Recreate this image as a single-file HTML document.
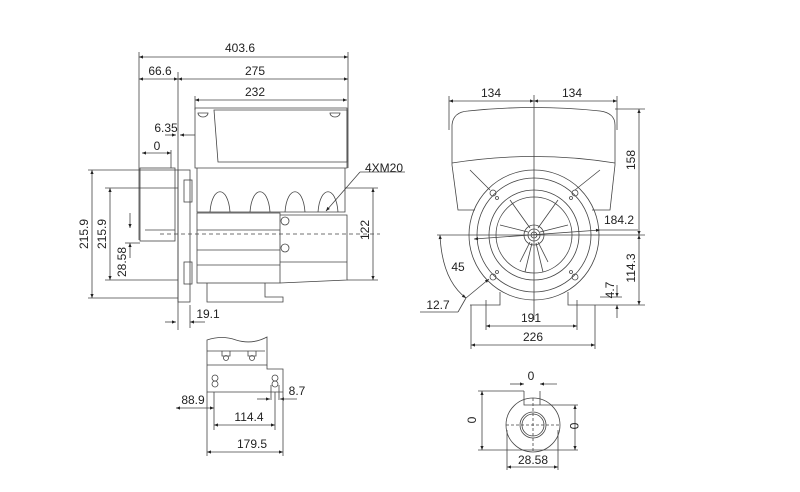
<!DOCTYPE html>
<html><head><meta charset="utf-8"><style>
html,body{margin:0;padding:0;background:#fff;}
svg{display:block;}
text{font-family:"Liberation Sans",sans-serif;font-size:12px;fill:#222;}
</style></head><body>
<svg width="800" height="492" viewBox="0 0 800 492" xmlns="http://www.w3.org/2000/svg">
<defs>
<marker id="a" viewBox="0 0 10 10" refX="10" refY="5" markerWidth="7" markerHeight="5" orient="auto-start-reverse"><path d="M0,1L10,5L0,9z" fill="#222"/></marker>
</defs>
<g stroke="#444" stroke-width="0.8" fill="none">
<!-- LEFT VIEW dimensions -->
<line x1="139" y1="57" x2="348" y2="57" marker-start="url(#a)" marker-end="url(#a)"/>
<line x1="139" y1="79" x2="178" y2="79" marker-start="url(#a)" marker-end="url(#a)"/>
<line x1="178" y1="79" x2="348" y2="79" marker-start="url(#a)" marker-end="url(#a)"/>
<line x1="195" y1="100" x2="347" y2="100" marker-start="url(#a)" marker-end="url(#a)"/>
<line x1="139" y1="52" x2="139" y2="240"/>
<line x1="348" y1="52" x2="348" y2="168"/>
<line x1="195" y1="96" x2="195" y2="110"/>
<line x1="178" y1="72" x2="178" y2="330"/>
<line x1="165" y1="135" x2="176" y2="135" marker-end="url(#a)"/>
<line x1="180" y1="135" x2="195" y2="135" marker-start="url(#a)"/>
<line x1="142" y1="153" x2="171" y2="153" marker-start="url(#a)" marker-end="url(#a)"/>
<line x1="171" y1="150" x2="171" y2="168"/>
<!-- shaft -->
<rect x="140" y="168" width="35" height="73"/>
<line x1="145" y1="230" x2="175" y2="230"/>
<line x1="160" y1="234" x2="380" y2="234" stroke-dasharray="4,3"/>
<!-- flange -->
<rect x="178" y="170" width="12" height="132"/>
<rect x="184" y="180" width="8" height="22"/>
<rect x="184" y="262" width="8" height="22"/>
<!-- top box -->
<path d="M195,108 H347 V168 H195 Z"/>
<path d="M214,110 H347 V162 H218 Z"/>
<path d="M198,113 a5,4 0 0 0 10,0 z"/><path d="M330,113 a5,4 0 0 0 10,0 z"/>
<!-- fins -->
<path d="M197,168 V212 H345 V168"/>
<path d="M210,212 C212,185 228,185 230,212 M250,212 C252,185 268,185 270,212 M285,212 C287,185 303,185 305,212 M318,212 C320,185 336,185 338,212"/>
<!-- lower body -->
<rect x="197" y="213" width="83" height="70"/>
<line x1="197" y1="230" x2="280" y2="230"/><line x1="197" y1="250" x2="280" y2="250"/><line x1="197" y1="265" x2="280" y2="265"/>
<path d="M280,215 H347 V280 L280,283"/>
<line x1="280" y1="262" x2="347" y2="262"/>
<circle cx="285" cy="221" r="4"/><circle cx="285" cy="248" r="4"/>
<path d="M207,283 V302 H283 V297 H265 V283"/>
<!-- vertical dims -->
<line x1="92" y1="170" x2="92" y2="298" marker-start="url(#a)" marker-end="url(#a)"/>
<line x1="88" y1="170" x2="178" y2="170"/><line x1="88" y1="298" x2="178" y2="298"/>
<line x1="110" y1="188" x2="110" y2="280" marker-start="url(#a)" marker-end="url(#a)"/>
<line x1="105" y1="188" x2="178" y2="188"/><line x1="105" y1="280" x2="178" y2="280"/>
<line x1="130" y1="213" x2="130" y2="228" marker-end="url(#a)"/>
<line x1="130" y1="258" x2="130" y2="243" marker-end="url(#a)"/>
<line x1="125" y1="243" x2="140" y2="243"/>
<line x1="373" y1="188" x2="373" y2="280" marker-start="url(#a)" marker-end="url(#a)"/>
<line x1="345" y1="188" x2="378" y2="188"/><line x1="347" y1="280" x2="378" y2="280"/>
<line x1="360" y1="172" x2="326" y2="211" marker-end="url(#a)"/>
<line x1="360" y1="172" x2="405" y2="172"/>
<line x1="165" y1="322" x2="176" y2="322" marker-end="url(#a)"/>
<line x1="205" y1="322" x2="190" y2="322" marker-end="url(#a)"/>
<line x1="190" y1="305" x2="190" y2="328"/>
<!-- RIGHT VIEW -->
<line x1="449" y1="101" x2="534" y2="101" marker-start="url(#a)" marker-end="url(#a)"/>
<line x1="534" y1="101" x2="617" y2="101" marker-start="url(#a)" marker-end="url(#a)"/>
<line x1="449" y1="96" x2="449" y2="130"/><line x1="617" y1="96" x2="617" y2="130"/>
<line x1="534" y1="95" x2="534" y2="320"/>
<path d="M452,165 V125 Q453,112 468,111 Q534,104 600,111 Q615,113 615,125 V165"/>
<path d="M452,163 Q534,150 615,163"/>
<path d="M452,165 L458,210 H475 M615,165 L610,210 H592"/>
<path d="M470,170 L490,190 M600,170 L575,190"/>
<circle cx="534" cy="235" r="65"/><circle cx="534" cy="235" r="57"/>
<circle cx="534" cy="235" r="45"/><circle cx="534" cy="235" r="38"/>
<circle cx="534" cy="235" r="10"/><circle cx="534" cy="235" r="6"/><circle cx="534" cy="235" r="3"/>
<path d="M500,225 L528,232 M568,225 L540,232 M510,200 L530,228 M558,200 L538,228 M525,272 L532,243 M543,272 L536,243 M520,262 L530,242 M548,262 L538,242"/>
<circle cx="493" cy="193" r="3"/><circle cx="575" cy="193" r="3"/><circle cx="493" cy="277" r="3"/><circle cx="575" cy="277" r="3"/>
<circle cx="497" cy="198" r="1.5"/><circle cx="571" cy="198" r="1.5"/><circle cx="497" cy="272" r="1.5"/><circle cx="571" cy="272" r="1.5"/>
<path d="M470,305 H500 V292 M600,305 H568 V292"/>
<line x1="437" y1="235" x2="645" y2="235"/>
<line x1="474" y1="239" x2="600" y2="230" marker-start="url(#a)" marker-end="url(#a)"/>
<line x1="600" y1="230" x2="638" y2="230"/>
<line x1="639" y1="109" x2="639" y2="235" marker-start="url(#a)" marker-end="url(#a)"/>
<line x1="615" y1="109" x2="645" y2="109"/>
<line x1="639" y1="235" x2="639" y2="305" marker-start="url(#a)" marker-end="url(#a)"/>
<line x1="600" y1="305" x2="645" y2="305"/>
<line x1="617" y1="285" x2="617" y2="297" marker-end="url(#a)"/>
<line x1="617" y1="318" x2="617" y2="305" marker-end="url(#a)"/>
<line x1="600" y1="297" x2="622" y2="297"/>
<path d="M440,235 Q442,280 466,298" marker-start="url(#a)" marker-end="url(#a)"/>
<line x1="466" y1="298" x2="489" y2="279" marker-end="url(#a)"/>
<line x1="420" y1="312" x2="458" y2="312"/><line x1="458" y1="312" x2="466" y2="298"/>
<line x1="486" y1="326" x2="577" y2="326" marker-start="url(#a)" marker-end="url(#a)"/>
<line x1="486" y1="300" x2="486" y2="330"/><line x1="577" y1="300" x2="577" y2="330"/>
<line x1="471" y1="345" x2="595" y2="345" marker-start="url(#a)" marker-end="url(#a)"/>
<line x1="471" y1="305" x2="471" y2="349"/><line x1="595" y1="305" x2="595" y2="349"/>
<!-- BOTTOM VIEW -->
<path d="M207,365 V340 Q222,335 236,340 Q252,345 267,337 V365 H207"/>
<path d="M207,351 H265"/>
<path d="M222,351 V356 H230 V351 M248,351 V356 H256 V351"/>
<circle cx="226" cy="358" r="2.5"/><circle cx="252" cy="358" r="2.5"/>
<path d="M267,365 V369 H283 V392 H207 V365"/>
<circle cx="215" cy="378" r="3"/><circle cx="215" cy="384" r="3"/>
<circle cx="275" cy="378" r="3"/><circle cx="275" cy="384" r="3"/>
<line x1="176" y1="408" x2="214" y2="408" marker-start="url(#a)" marker-end="url(#a)"/>
<line x1="214" y1="392" x2="214" y2="430"/><line x1="275" y1="392" x2="275" y2="430"/>
<line x1="271" y1="385" x2="271" y2="400"/><line x1="279" y1="385" x2="279" y2="400"/>
<line x1="257" y1="399" x2="270" y2="399" marker-end="url(#a)"/>
<line x1="297" y1="399" x2="280" y2="399" marker-end="url(#a)"/>
<line x1="214" y1="425" x2="275" y2="425" marker-start="url(#a)" marker-end="url(#a)"/>
<line x1="207" y1="392" x2="207" y2="456"/><line x1="283" y1="392" x2="283" y2="456"/>
<line x1="207" y1="452" x2="283" y2="452" marker-start="url(#a)" marker-end="url(#a)"/>
<!-- small view -->
<circle cx="533" cy="425" r="27"/><circle cx="533" cy="425" r="13"/><circle cx="533" cy="425" r="11"/>
<line x1="506" y1="425" x2="560" y2="425" stroke-dasharray="3,2"/>
<line x1="533" y1="398" x2="533" y2="452" stroke-dasharray="3,2"/>
<path d="M524,391 V405 H578 M524,391 H478"/>
<line x1="540" y1="391" x2="540" y2="405"/>
<line x1="510" y1="384" x2="524" y2="384" marker-end="url(#a)"/>
<line x1="557" y1="384" x2="540" y2="384" marker-end="url(#a)"/>
<line x1="482" y1="391" x2="482" y2="450" marker-start="url(#a)" marker-end="url(#a)"/>
<line x1="478" y1="450" x2="578" y2="450"/>
<line x1="575" y1="405" x2="575" y2="450" marker-start="url(#a)" marker-end="url(#a)"/>
<line x1="507" y1="467" x2="558" y2="467" marker-start="url(#a)" marker-end="url(#a)"/>
<line x1="507" y1="430" x2="507" y2="470"/><line x1="558" y1="430" x2="558" y2="470"/>
</g>
<text x="240" y="52" text-anchor="middle">403.6</text>
<text x="160" y="75" text-anchor="middle">66.6</text>
<text x="255" y="75" text-anchor="middle">275</text>
<text x="255" y="96" text-anchor="middle">232</text>
<text x="166" y="132" text-anchor="middle">6.35</text>
<text x="157" y="150" text-anchor="middle">0</text>
<text x="365" y="172">4XM20</text>
<text transform="translate(88,234) rotate(-90)" text-anchor="middle">215.9</text>
<text transform="translate(106,234) rotate(-90)" text-anchor="middle">215.9</text>
<text transform="translate(126,262) rotate(-90)" text-anchor="middle">28.58</text>
<text transform="translate(369,230) rotate(-90)" text-anchor="middle">122</text>
<text x="208" y="318" text-anchor="middle">19.1</text>
<text x="491" y="97" text-anchor="middle">134</text>
<text x="572" y="97" text-anchor="middle">134</text>
<text x="619" y="224" text-anchor="middle">184.2</text>
<text transform="translate(635,160) rotate(-90)" text-anchor="middle">158</text>
<text transform="translate(635,268) rotate(-90)" text-anchor="middle">114.3</text>
<text transform="translate(614,290) rotate(-90)" text-anchor="middle">4.7</text>
<text x="458" y="271" text-anchor="middle">45</text>
<text x="438" y="309" text-anchor="middle">12.7</text>
<text x="531" y="322" text-anchor="middle">191</text>
<text x="533" y="341" text-anchor="middle">226</text>
<text x="193" y="404" text-anchor="middle">88.9</text>
<text x="297" y="395" text-anchor="middle">8.7</text>
<text x="249" y="421" text-anchor="middle">114.4</text>
<text x="252" y="448" text-anchor="middle">179.5</text>
<text x="531" y="380" text-anchor="middle">0</text>
<text transform="translate(476,420) rotate(-90)" text-anchor="middle">0</text>
<text transform="translate(570,426) rotate(90)" text-anchor="middle">0</text>
<text x="533" y="464" text-anchor="middle">28.58</text>
</svg>
</body></html>
